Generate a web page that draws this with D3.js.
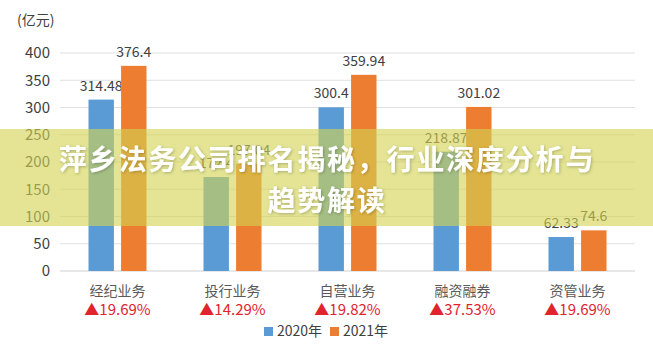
<!DOCTYPE html>
<html><head><meta charset="utf-8">
<script src="https://cdn.jsdelivr.net/npm/d3@7/dist/d3.min.js"></script>
<style>body{margin:0;background:#fff;font-family:"Microsoft YaHei","Noto Sans CJK SC",sans-serif;}</style>
</head><body><svg id="c" width="653" height="356"></svg>
<script>
const categories = ["经纪业务","投行业务","自营业务","融资融券","资管业务"];
const v2020 = [314.48, 172.4, 300.4, 218.87, 62.33];
const v2021 = [376.4, 197.04, 359.94, 301.02, 74.6];
const label2020 = ["314.48","172.4","300.4","218.87","62.33"];
const label2021 = ["376.4","197.04","359.94","301.02","74.6"];
const growth = ["19.69%","14.29%","19.82%","37.53%","19.69%"];
const yTicks = [0,50,100,150,200,250,300,350,400];
const seriesNames = ["2020年","2021年"];
const colors = ["#5b9bd5","#ed7d31"];
const titleLines = ["萍乡法务公司排名揭秘，行业深度分析与","趋势解读"];

const svg = d3.select("#c");
const font = '"Microsoft YaHei","Noto Sans CJK SC",sans-serif';
const x = d3.scaleBand().domain(categories).range([60,635]);
const y = d3.scaleLinear().domain([0,400]).range([271,53]);
const inner = d3.scaleBand().domain([0,1]).range([0,58]).paddingInner(0.22);

// grid
svg.append("g").selectAll("line").data(yTicks).join("line")
  .attr("x1",60).attr("x2",635).attr("y1",d=>y(d)).attr("y2",d=>y(d))
  .attr("stroke",d=>d===0?"#d0d0d0":"#e0e0e0").attr("stroke-width",1);
svg.append("g").selectAll("text").data(yTicks).join("text")
  .attr("x",50).attr("y",d=>y(d)).attr("dy","0.35em").attr("text-anchor","end")
  .attr("font-family",font).attr("font-size",15).attr("fill","#404040").text(d=>d);
svg.append("text").attr("x",17).attr("y",25).attr("font-family",font).attr("font-size",14)
  .attr("fill","#404040").text("(亿元)");

const series = [v2020, v2021];
const labels = [label2020, label2021];
series.forEach((vals,si)=>{
  const g = svg.append("g");
  g.selectAll("rect").data(categories).join("rect")
    .attr("x",(c)=>x(c)+x.bandwidth()/2-29+inner(si))
    .attr("width",inner.bandwidth())
    .attr("y",(c,i)=>y(vals[i]))
    .attr("height",(c,i)=>y(0)-y(vals[i]))
    .attr("fill",colors[si]);
  g.selectAll("text").data(categories).join("text")
    .attr("x",(c)=>x(c)+x.bandwidth()/2-29+inner(si)+inner.bandwidth()/2)
    .attr("y",(c,i)=>y(vals[i])-9)
    .attr("text-anchor","middle").attr("font-family",font).attr("font-size",14)
    .attr("fill","#404040").text((c,i)=>labels[si][i]);
});

// category labels
svg.append("g").selectAll("text").data(categories).join("text")
  .attr("x",c=>x(c)+x.bandwidth()/2).attr("y",291).attr("dy","0.35em").attr("text-anchor","middle")
  .attr("font-family",font).attr("font-size",14).attr("fill","#595959").text(c=>c);
svg.append("g").selectAll("text").data(categories).join("text")
  .attr("x",(c)=>x(c)+x.bandwidth()/2).attr("y",310).attr("dy","0.35em").attr("text-anchor","middle")
  .attr("font-family",font).attr("font-size",15).attr("fill","#e0242e").text((c,i)=>"▲"+growth[i]);

// legend
const lg = svg.append("g");
const legX = [264,330];
seriesNames.forEach((n,i)=>{
  lg.append("rect").attr("x",legX[i]).attr("y",327).attr("width",9).attr("height",9).attr("fill",colors[i]);
  lg.append("text").attr("x",legX[i]+13).attr("y",331).attr("dy","0.35em")
    .attr("font-family",font).attr("font-size",14).attr("fill","#404040").text(n);
});

// banner overlay
svg.append("rect").attr("x",0).attr("y",129).attr("width",653).attr("height",97)
  .attr("fill","rgb(212,212,83)").attr("opacity",0.62);
const defs = svg.append("defs");
const f = defs.append("filter").attr("id","sh").attr("x","-5%").attr("y","-20%").attr("width","110%").attr("height","140%");
f.append("feDropShadow").attr("dx",1).attr("dy",1).attr("stdDeviation",1.5).attr("flood-color","#000").attr("flood-opacity",0.25);
svg.append("g").selectAll("text").data(titleLines).join("text")
  .attr("x",327).attr("y",(d,i)=>160+i*41).attr("dy","0.35em").attr("text-anchor","middle")
  .attr("font-family",font).attr("font-weight","bold").attr("font-size",28)
  .attr("letter-spacing",1.8).attr("fill","#fff").attr("filter","url(#sh)").text(d=>d);
</script></body></html>
